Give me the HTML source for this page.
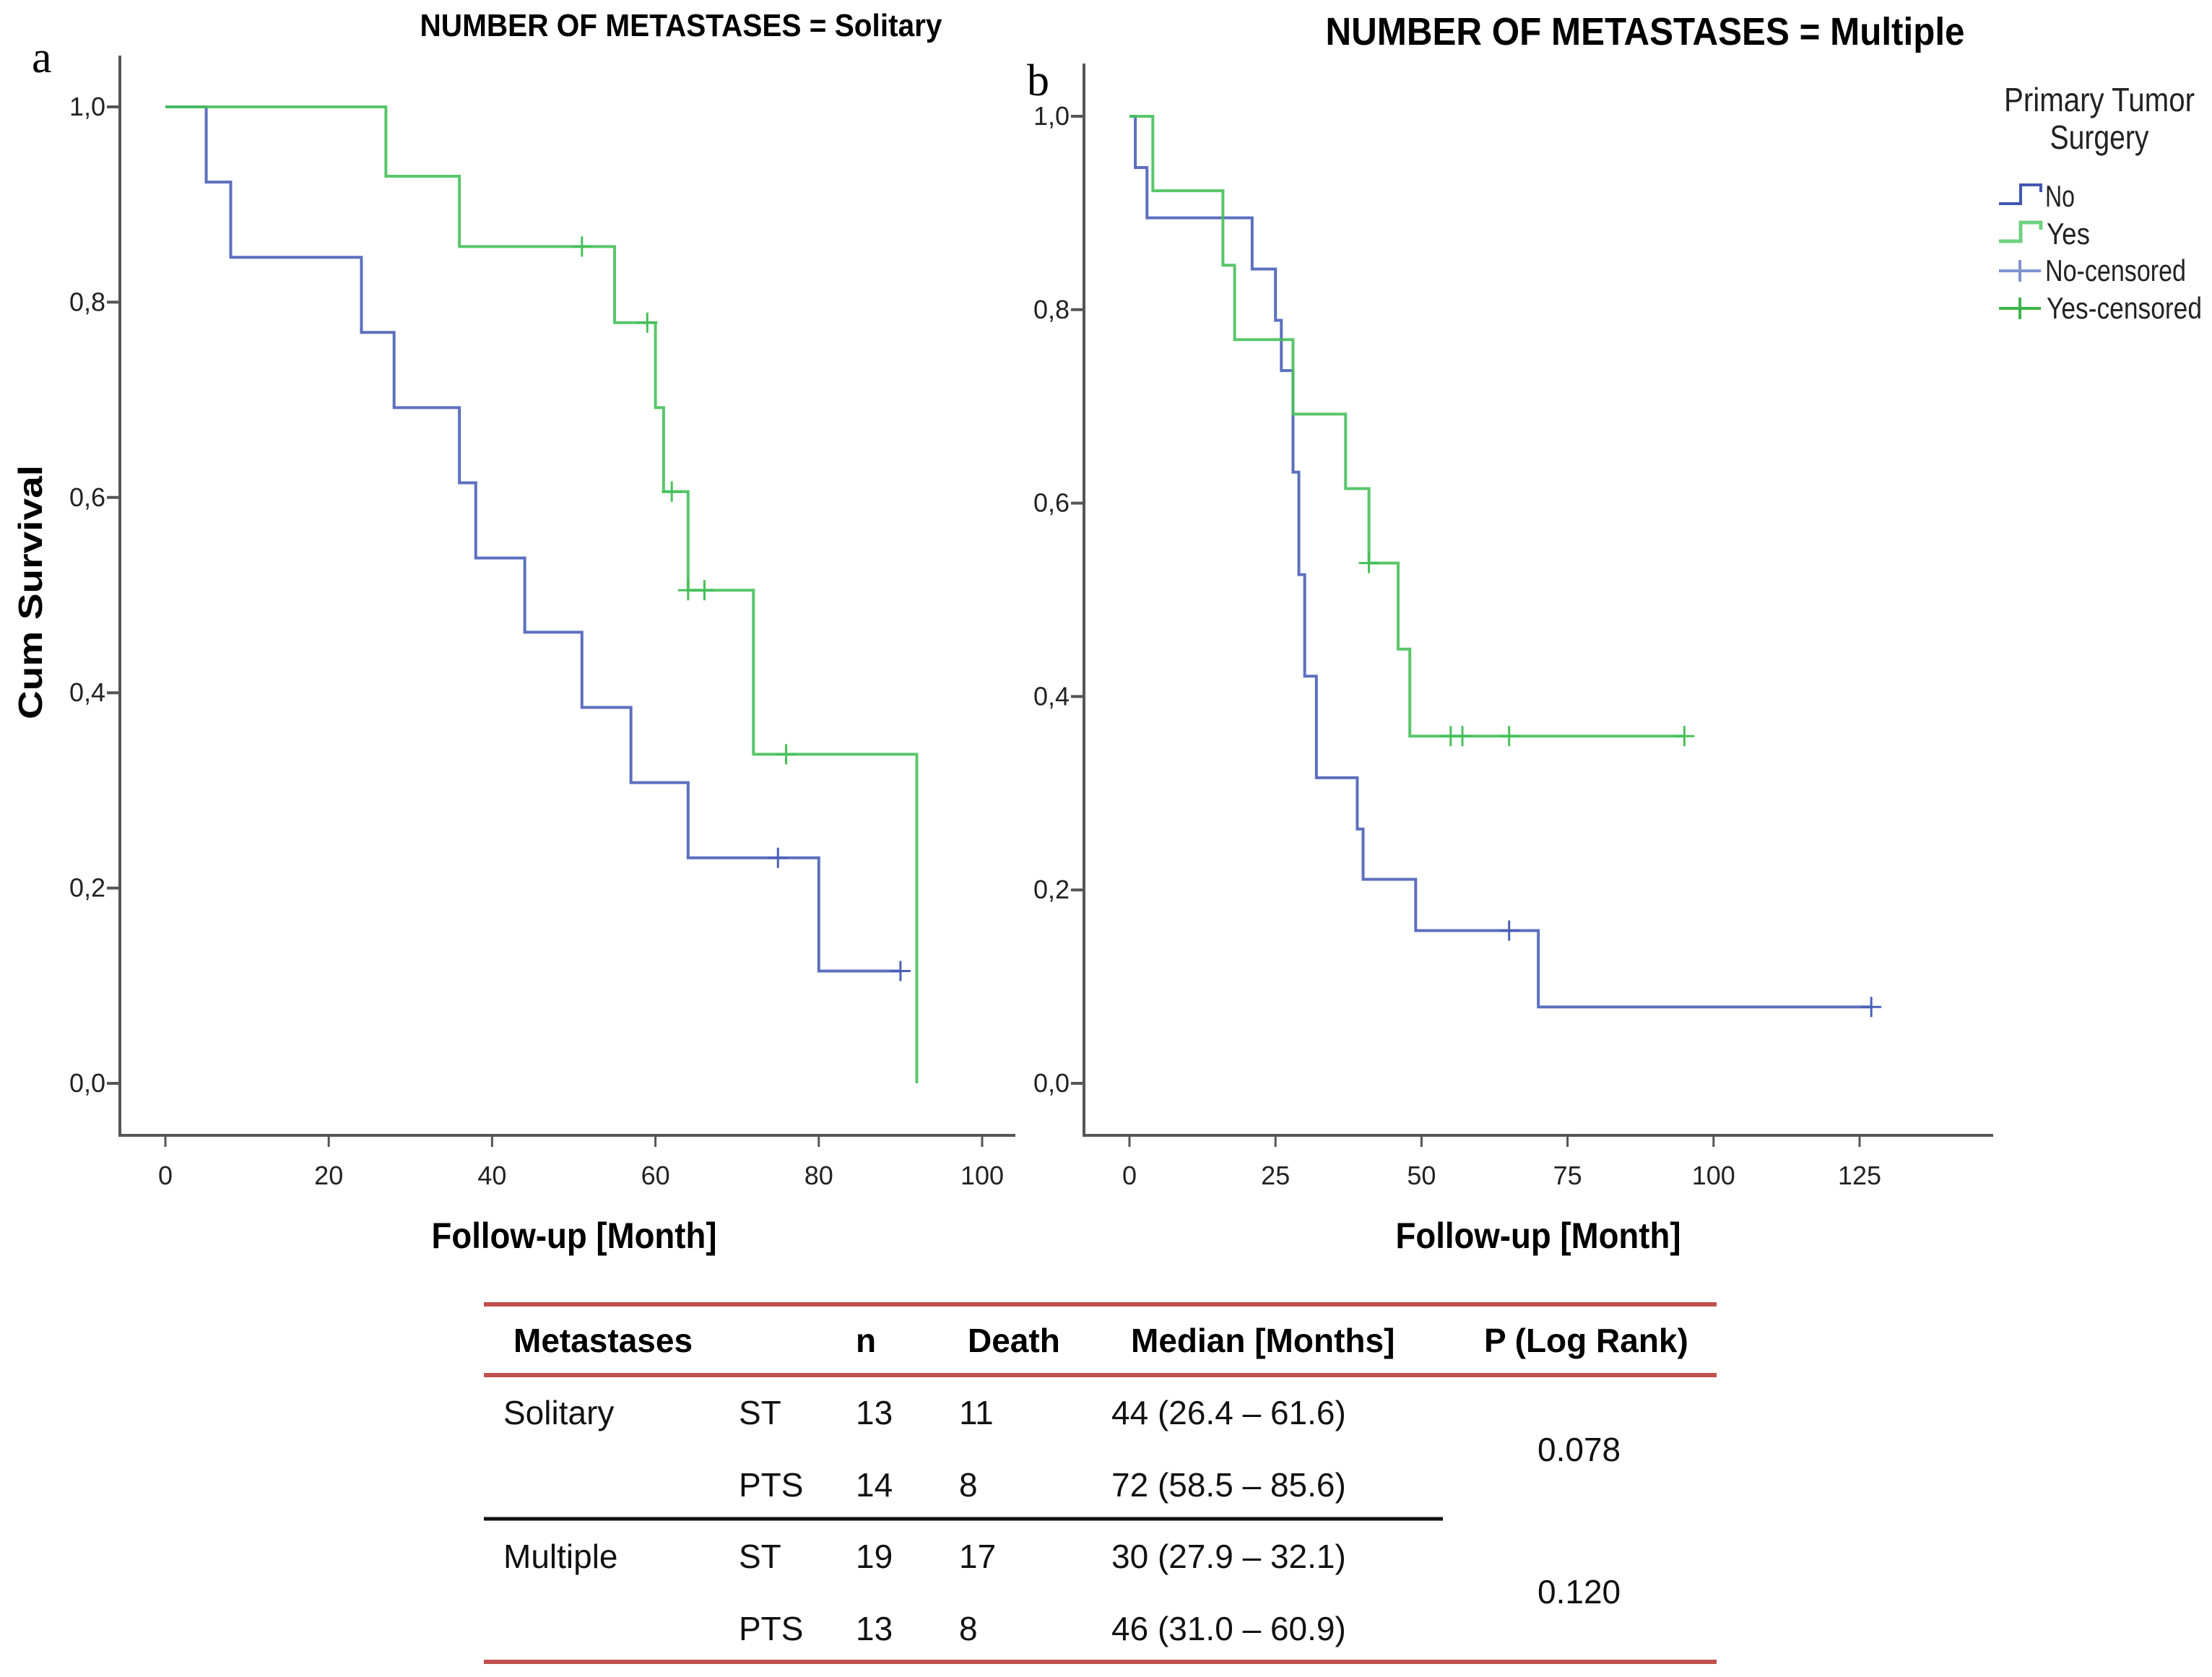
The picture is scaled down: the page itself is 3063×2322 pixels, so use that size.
<!DOCTYPE html>
<html><head><meta charset="utf-8"><style>
html,body{margin:0;padding:0;background:#fff}
svg{display:block}
text{font-family:"Liberation Sans",sans-serif}
</style></head><body>
<svg id="chart" width="3063" height="2322" viewBox="0 0 3063 2322" xmlns="http://www.w3.org/2000/svg">
<g id="pa"></g>
<g id="pb"></g>
<g id="legend">
  <text x="2907" y="154" font-size="46" text-anchor="middle" fill="#222" textLength="264" lengthAdjust="spacingAndGlyphs">Primary Tumor</text>
  <text x="2907" y="206" font-size="46" text-anchor="middle" fill="#222" textLength="137" lengthAdjust="spacingAndGlyphs">Surgery</text>
  <g><path d="M2768 282 H2798 V256 H2826 V266" fill="none" stroke="#4056b0" stroke-width="4"/><text x="2832" y="286" font-size="42" fill="#222" textLength="41" lengthAdjust="spacingAndGlyphs">No</text></g>
  <g><path d="M2768 334 H2798 V308 H2826 V318" fill="none" stroke="#6fd07f" stroke-width="5"/><text x="2834" y="338" font-size="42" fill="#222" textLength="60" lengthAdjust="spacingAndGlyphs">Yes</text></g>
  <g><path d="M2768 375 H2826 M2797 360 V390" fill="none" stroke="#8093cf" stroke-width="4"/><text x="2832" y="389" font-size="42" fill="#222" textLength="195" lengthAdjust="spacingAndGlyphs">No-censored</text></g>
  <g><path d="M2768 427 H2826 M2797 412 V442" fill="none" stroke="#3cb54a" stroke-width="4"/><text x="2834" y="441" font-size="42" fill="#222" textLength="215" lengthAdjust="spacingAndGlyphs">Yes-censored</text></g>
</g>
<g id="table">
  <line x1="670" y1="1806" x2="2377" y2="1806" stroke="#c0504d" stroke-width="6"/>
  <line x1="670" y1="1904" x2="2377" y2="1904" stroke="#c0504d" stroke-width="6"/>
  <line x1="670" y1="2301" x2="2377" y2="2301" stroke="#c0504d" stroke-width="6"/>
  <line x1="670" y1="2103" x2="1998" y2="2103" stroke="#111" stroke-width="5"/>
  <g font-size="46" font-weight="bold" fill="#000">
    <text x="711" y="1872">Metastases</text><text x="1185" y="1872">n</text><text x="1340" y="1872">Death</text><text x="1566" y="1872">Median [Months]</text><text x="2055" y="1872">P (Log Rank)</text>
  </g>
  <g font-size="46" fill="#111">
    <text x="697" y="1972">Solitary</text><text x="1023" y="1972">ST</text><text x="1185" y="1972">13</text><text x="1328" y="1972">11</text><text x="1539" y="1972">44 (26.4 – 61.6)</text>
    <text x="1023" y="2072">PTS</text><text x="1185" y="2072">14</text><text x="1328" y="2072">8</text><text x="1539" y="2072">72 (58.5 – 85.6)</text>
    <text x="697" y="2171">Multiple</text><text x="1023" y="2171">ST</text><text x="1185" y="2171">19</text><text x="1328" y="2171">17</text><text x="1539" y="2171">30 (27.9 – 32.1)</text>
    <text x="1023" y="2271">PTS</text><text x="1185" y="2271">13</text><text x="1328" y="2271">8</text><text x="1539" y="2271">46 (31.0 – 60.9)</text>
    <text x="2129" y="2023">0.078</text><text x="2129" y="2220">0.120</text>
  </g>
</g>
</svg>
<script>
// Panel a (Solitary)
const aNoTimes = [0, 5, 8, 24, 28, 36, 38, 44, 51, 57, 64, 80, 90];
const aNoSurv = [1.0, 0.923, 0.846, 0.769, 0.692, 0.615, 0.538, 0.462, 0.385, 0.308, 0.231, 0.115, 0.115];
const aNoCens = [75, 90];
const aYesTimes = [0, 27, 36, 55, 60, 61, 64, 72, 92];
const aYesSurv = [1.0, 0.929, 0.857, 0.779, 0.692, 0.606, 0.505, 0.337, 0.0];
const aYesCens = [51, 59, 62, 64, 66, 76];
const aXTicks = [0, 20, 40, 60, 80, 100];
// Panel b (Multiple)
const bNoTimes = [0, 1, 3, 21, 25, 26, 28, 29, 30, 32, 39, 40, 49, 70, 127];
const bNoSurv = [1.0, 0.947, 0.895, 0.842, 0.789, 0.737, 0.632, 0.526, 0.421, 0.316, 0.263, 0.211, 0.158, 0.079, 0.079];
const bNoCens = [65, 127];
const bYesTimes = [0, 4, 16, 18, 28, 37, 41, 46, 48, 95];
const bYesSurv = [1.0, 0.923, 0.846, 0.769, 0.692, 0.615, 0.538, 0.449, 0.359, 0.359];
const bYesCens = [41, 55, 57, 65, 95];
const bXTicks = [0, 25, 50, 75, 100, 125];
const yTicks = [0, 0.2, 0.4, 0.6, 0.8, 1.0];
const yTickLabels = ["0,0", "0,2", "0,4", "0,6", "0,8", "1,0"];

const NS = "http://www.w3.org/2000/svg";
function mk(tag, attrs, parent, txt) {
  const e = document.createElementNS(NS, tag);
  for (const k in attrs) e.setAttribute(k, attrs[k]);
  if (txt !== undefined) e.textContent = txt;
  parent.appendChild(e); return e;
}
function survAt(times, surv, t) {
  let s = surv[0];
  for (let i = 0; i < times.length; i++) if (times[i] <= t) s = surv[i];
  return s;
}
function panel(g, cfg) {
  const sx = v => cfg.x0 + (v - cfg.xmin) / (cfg.xmax - cfg.xmin) * (cfg.x1 - cfg.x0);
  const sy = v => cfg.y0 + v * (cfg.y1 - cfg.y0);
  const ax = mk('path', {d: `M${cfg.axL} ${cfg.axT} V${cfg.axB} H${cfg.axR}`, fill: 'none', stroke: '#555', 'stroke-width': 4}, g);
  
  
  yTicks.forEach((v, i) => {
    const y = sy(v);
    const tk = mk('line', {x1: cfg.axL - 18, x2: cfg.axL, y1: y, y2: y, stroke: '#555', 'stroke-width': 4}, g);
    
    
    const lb = mk('text', {x: cfg.axL - 20, y: y + 12, 'font-size': 36, 'text-anchor': 'end', fill: '#222'}, g, yTickLabels[i]);
    
    
  });
  cfg.xticks.forEach(v => {
    const x = sx(v);
    const tk = mk('line', {x1: x, x2: x, y1: cfg.axB, y2: cfg.axB + 16, stroke: '#555', 'stroke-width': 3}, g);
    
    
    const lb = mk('text', {x: x, y: cfg.axB + 68, 'font-size': 36, 'text-anchor': 'middle', fill: '#222'}, g, String(v));
    
    
  });
  cfg.series.forEach(s => {
    let d = `M${sx(s.t[0])} ${sy(s.s[0])}`;
    for (let i = 1; i < s.t.length; i++) {
      d += ` H${sx(s.t[i])} V${sy(s.s[i])}`;
    }
    const p = mk('path', {d: d, fill: 'none', stroke: s.color, 'stroke-width': 4, 'stroke-opacity': 0.9}, g);
    
    
    s.c.forEach(t => {
      const x = sx(t), y = sy(survAt(s.t, s.s, t));
      const m = mk('path', {d: `M${x - 14} ${y} H${x + 14} M${x} ${y - 14} V${y + 14}`, stroke: s.color, 'stroke-width': 3, fill: 'none'}, g);
      
      
    });
  });
  const tt = mk('text', {x: cfg.titleX, y: cfg.titleY, 'font-size': cfg.titleSize, 'font-weight': 'bold', 'text-anchor': 'middle', textLength: cfg.titleW, lengthAdjust: 'spacingAndGlyphs', fill: '#000'}, g, cfg.title);
  
  
  const xt = mk('text', {x: cfg.xtX, y: 1728, 'font-size': 50, 'font-weight': 'bold', 'text-anchor': 'middle', textLength: 395, lengthAdjust: 'spacingAndGlyphs', fill: '#000'}, g, 'Follow-up [Month]');
  
  
  const pl = mk('text', {x: cfg.lblX, y: cfg.lblY, 'font-size': 62, style: 'font-family:"Liberation Serif",serif', fill: '#000'}, g, cfg.lbl);
  
  
}
panel(document.getElementById('pa'), {
  x0: 229, x1: 1360, xmin: 0, xmax: 100, y0: 1500, y1: 148,
  axL: 166, axT: 77, axB: 1572, axR: 1406, xticks: aXTicks,
  series: [
    {name: 'solitary-no', t: aNoTimes, s: aNoSurv, c: aNoCens, color: '#4a60b8'},
    {name: 'solitary-yes', t: aYesTimes, s: aYesSurv, c: aYesCens, color: '#46c05a'}
  ],
  title: 'NUMBER OF METASTASES = Solitary', titleX: 943, titleY: 50, titleSize: 44, titleW: 723,
  xtX: 795, lbl: 'a', lblX: 44, lblY: 100
});
panel(document.getElementById('pb'), {
  x0: 1564, x1: 2575, xmin: 0, xmax: 125, y0: 1500, y1: 161,
  axL: 1501, axT: 88, axB: 1572, axR: 2760, xticks: bXTicks,
  series: [
    {name: 'multiple-no', t: bNoTimes, s: bNoSurv, c: bNoCens, color: '#4a60b8'},
    {name: 'multiple-yes', t: bYesTimes, s: bYesSurv, c: bYesCens, color: '#46c05a'}
  ],
  title: 'NUMBER OF METASTASES = Multiple', titleX: 2278, titleY: 62, titleSize: 54, titleW: 885,
  xtX: 2130, lbl: 'b', lblX: 1422, lblY: 132
});
// y axis title for panel a
const yt = mk('text', {x: 0, y: 0, transform: 'translate(58,820) rotate(-90)', 'font-size': 46, 'font-weight': 'bold', 'text-anchor': 'middle', textLength: 352, lengthAdjust: 'spacingAndGlyphs', fill: '#000'}, document.getElementById('pa'), 'Cum Survival');


</script>
</body></html>
